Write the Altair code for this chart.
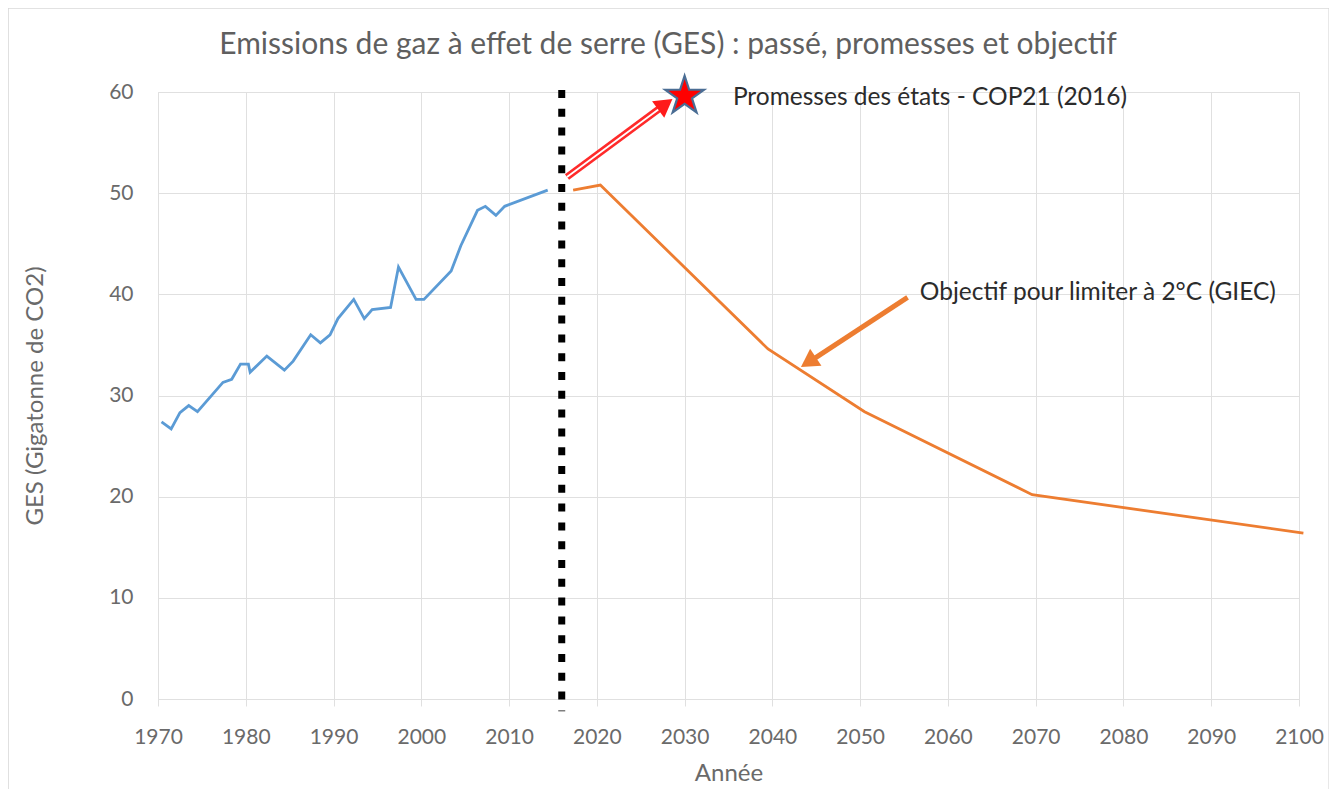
import altair as alt
import pandas as pd

# ---------------- data ----------------
blue_years = [1970.4, 1971.5, 1972.5, 1973.5, 1974.5, 1977.4, 1978.4, 1979.4, 1980.3, 1980.5,
              1982.4, 1984.4, 1985.4, 1987.4, 1988.5, 1989.6, 1990.5, 1992.3, 1993.5, 1994.4,
              1996.5, 1997.4, 1999.4, 2000.3, 2003.4, 2004.5, 2006.4, 2007.3, 2008.5, 2009.5, 2014.4]
blue_vals = [27.4, 26.7, 28.3, 29.0, 28.4, 31.3, 31.6, 33.1, 33.1, 32.3,
             33.9, 32.5, 33.4, 36.0, 35.2, 36.0, 37.6, 39.5, 37.6, 38.5,
             38.7, 42.7, 39.5, 39.5, 42.3, 44.8, 48.3, 48.7, 47.8, 48.7, 50.3]

orange_years = [2017.3, 2020.4, 2039.5, 2050.5, 2069.6, 2100.5]
orange_vals = [50.3, 50.8, 34.6, 28.4, 20.2, 16.4]

cop21_year = 2016
cop21_span = [60.2, -1.2]

star_year = [2030.0]
star_val = [59.6]

red_arrow_x = [2016.6, 2027.2]
red_arrow_y = [51.6, 58.4]
red_head = [2027.8, 58.8]

orange_arrow_x = [2055.4, 2044.5]
orange_arrow_y = [39.7, 33.5]
orange_head = [2044.1, 33.3]

label_cop = ["Promesses des états - COP21 (2016)"]
label_cop_pos = [2035.5, 59.4]
label_giec = ["Objectif pour limiter à 2°C (GIEC)"]
label_giec_pos = [2056.8, 40.1]

x_ticks = list(range(1970, 2101, 10))
y_ticks = list(range(0, 61, 10))

TITLE = ["Emissions de gaz à effet de serre (GES) : passé, promesses et objectif"]
FONT = "Lato"
GRAY = "#6a6a6a"
GRID = "#e0e0e0"

# ---------------- scales / axes ----------------
xs = alt.Scale(domain=[1970, 2100], nice=False, zero=False)
ys = alt.Scale(domain=[0, 60], nice=False, zero=True)

xaxis = alt.Axis(values=x_ticks, format="d", title="Année", grid=True, gridColor=GRID,
                 domain=False, ticks=True, tickSize=7, tickColor=GRID,
                 labelPadding=20, labelFontSize=21, labelFont=FONT, labelColor=GRAY,
                 titleFontSize=24, titleFont=FONT, titleColor=GRAY, titleFontWeight="normal",
                 titleY=74, titleBaseline="middle", labelFlush=False)
yaxis = alt.Axis(values=y_ticks, title="GES (Gigatonne de CO2)", grid=True, gridColor=GRID,
                 domain=False, ticks=False, labelPadding=25,
                 labelFontSize=21, labelFont=FONT, labelColor=GRAY,
                 titleFontSize=24, titleFont=FONT, titleColor=GRAY, titleFontWeight="normal",
                 titleX=-123, titleBaseline="middle")


def X(field):
    return alt.X(field, type="quantitative", scale=xs, axis=xaxis)


def Y(field):
    return alt.Y(field, type="quantitative", scale=ys, axis=yaxis)


# ---------------- layers ----------------
border = alt.Chart(alt.Data(values=[{}])).mark_rect(
    fill=None, stroke="#d9d9d9", strokeWidth=1.2
).encode(x=alt.value(-149.8), x2=alt.value(1171), y=alt.value(-83.8), y2=alt.value(708))

title = alt.Chart(pd.DataFrame({"t": TITLE})).mark_text(
    align="center", baseline="middle", font=FONT, fontSize=30, color="#5f5f5f"
).encode(x=alt.value(510), y=alt.value(-47.5), text="t:N")

blue_df = pd.DataFrame({"annee": blue_years, "ges": blue_vals, "o": range(len(blue_years))})
blue = alt.Chart(blue_df).mark_line(color="#5b9bd5", strokeWidth=2.8, clip=False).encode(
    x=X("annee"), y=Y("ges"), order="o:Q")

orange_df = pd.DataFrame({"annee": orange_years, "ges": orange_vals, "o": range(len(orange_years))})
orange = alt.Chart(orange_df).mark_line(color="#ed7d31", strokeWidth=2.8, clip=False).encode(
    x=X("annee"), y=Y("ges"), order="o:Q")

cop_df = pd.DataFrame({"annee": [cop21_year], "top": [cop21_span[0]], "bot": [cop21_span[1]]})
cop = alt.Chart(cop_df).mark_rule(color="black", strokeWidth=7, strokeDash=[8, 10.8],
                                  strokeCap="butt", clip=False).encode(
    x=X("annee"), y=Y("top"), y2="bot")

red_df = pd.DataFrame({"x": [red_arrow_x[0]], "y": [red_arrow_y[0]],
                       "x2": [red_arrow_x[1]], "y2": [red_arrow_y[1]]})
red_body = alt.Chart(red_df).mark_rule(color="#ff2a2a", strokeWidth=7, clip=False).encode(
    x=X("x"), y=Y("y"), x2="x2", y2="y2")
red_inner = alt.Chart(red_df).mark_rule(color="white", strokeWidth=1.8, clip=False).encode(
    x=X("x"), y=Y("y"), x2="x2", y2="y2")
red_head_df = pd.DataFrame({"x": [red_head[0]], "y": [red_head[1]]})
red_head_mark = alt.Chart(red_head_df).mark_point(
    shape="triangle-up", filled=True, color="#ff1a1a", size=420, angle=53.7, opacity=1, clip=False
).encode(x=X("x"), y=Y("y"))

STAR = ("M0,-1L0.2245,-0.309L0.951,-0.309L0.363,0.118L0.588,0.809L0,0.382"
        "L-0.588,0.809L-0.363,0.118L-0.951,-0.309L-0.2245,-0.309Z")
star_df = pd.DataFrame({"x": star_year, "y": star_val})
star = alt.Chart(star_df).mark_point(
    shape=STAR, filled=True, fill="#ff0000", stroke="#4a6d94", strokeWidth=2.2,
    size=1650, opacity=1, clip=False
).encode(x=X("x"), y=Y("y"))

or_df = pd.DataFrame({"x": [orange_arrow_x[0]], "y": [orange_arrow_y[0]],
                      "x2": [orange_arrow_x[1]], "y2": [orange_arrow_y[1]]})
or_body = alt.Chart(or_df).mark_rule(color="#ed7d31", strokeWidth=5, clip=False).encode(
    x=X("x"), y=Y("y"), x2="x2", y2="y2")
or_head_df = pd.DataFrame({"x": [orange_head[0]], "y": [orange_head[1]]})
or_head = alt.Chart(or_head_df).mark_point(
    shape="triangle-up", filled=True, color="#ed7d31", size=420, angle=236.5, opacity=1, clip=False
).encode(x=X("x"), y=Y("y"))

t1_df = pd.DataFrame({"x": [label_cop_pos[0]], "y": [label_cop_pos[1]], "t": label_cop})
t1 = alt.Chart(t1_df).mark_text(align="left", baseline="middle", font=FONT, fontSize=24.5,
                                color="#2b2b2b", clip=False).encode(
    x=X("x"), y=Y("y"), text="t:N")
t2_df = pd.DataFrame({"x": [label_giec_pos[0]], "y": [label_giec_pos[1]], "t": label_giec})
t2 = alt.Chart(t2_df).mark_text(align="left", baseline="middle", font=FONT, fontSize=24.5,
                                color="#2b2b2b", clip=False).encode(
    x=X("x"), y=Y("y"), text="t:N")

chart = alt.layer(
    border, title, blue, orange, cop, red_body, red_inner, red_head_mark, star, or_body, or_head, t1, t2
).properties(
    width=1141, height=607,
    autosize=alt.AutoSizeParams(type="none"),
    padding={"left": 150, "top": 84, "right": 30, "bottom": 90},
).configure_view(stroke=None).configure(background="white")

chart.save("out.html", embed_options={"renderer": "svg", "actions": False})
